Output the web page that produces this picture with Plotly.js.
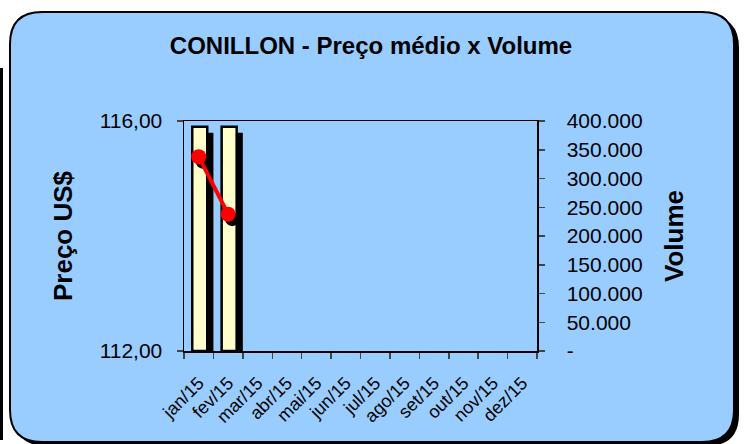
<!DOCTYPE html>
<html>
<head>
<meta charset="utf-8">
<script src="https://cdn.plot.ly/plotly-3.0.1.min.js"></script>
<style>html,body{margin:0;padding:0;background:#fff;}#chart{width:746px;height:444px;}</style>
</head>
<body>
<div id="chart"></div>
<script>
// ---- data ----
const months = ['jan/15','fev/15','mar/15','abr/15','mai/15','jun/15','jul/15','ago/15','set/15','out/15','nov/15','dez/15'];
const volume = [390000, 390000, null, null, null, null, null, null, null, null, null, null];
const price = [115.38, 114.38, null, null, null, null, null, null, null, null, null, null];
const volTickVals = [0, 50000, 100000, 150000, 200000, 250000, 300000, 350000, 400000];
const volTickText = ['-', '50.000', '100.000', '150.000', '200.000', '250.000', '300.000', '350.000', '400.000'];
const priceTickVals = [112, 116];
const priceTickText = ['112,00', '116,00'];

// ---- geometry (plot area in px) ----
const W = 746, H = 444;
const L = 184, R = 537, T = 121, B = 351;
const pw = R - L, ph = B - T;
const pxPerCat = pw / months.length;
const pxPerVol = ph / 400000;
const pxPerPrice = ph / 4;
const X = px => (px - L) / pw;
const Y = py => (B - py) / ph;

const idx = months.map((m, i) => i);
const volShadow = volume.map(v => v == null ? null : v - 6 / pxPerVol);
const priceShadow = price.map(p => p == null ? null : p - 5 / pxPerPrice);
const idxShadow = idx.map(i => i + 4 / pxPerCat);

function roundRect(x0, y0, x1, y1, r) {
  return 'M ' + X(x0 + r) + ',' + Y(y0) +
    ' L ' + X(x1 - r) + ',' + Y(y0) +
    ' Q ' + X(x1) + ',' + Y(y0) + ' ' + X(x1) + ',' + Y(y0 + r) +
    ' L ' + X(x1) + ',' + Y(y1 - r) +
    ' Q ' + X(x1) + ',' + Y(y1) + ' ' + X(x1 - r) + ',' + Y(y1) +
    ' L ' + X(x0 + r) + ',' + Y(y1) +
    ' Q ' + X(x0) + ',' + Y(y1) + ' ' + X(x0) + ',' + Y(y1 - r) +
    ' L ' + X(x0) + ',' + Y(y0 + r) +
    ' Q ' + X(x0) + ',' + Y(y0) + ' ' + X(x0 + r) + ',' + Y(y0) + ' Z';
}

const FAM = 'Liberation Sans, Arial, sans-serif';

const traces = [
  {type: 'bar', x: months, y: volShadow, xaxis: 'x', yaxis: 'y',
   marker: {color: '#000000', line: {width: 0}}, width: 0.51, offset: -0.01,
   hoverinfo: 'skip', showlegend: false},
  {type: 'bar', x: months, y: volume, xaxis: 'x', yaxis: 'y', name: 'Volume',
   marker: {color: '#FFFFCC', line: {color: '#000000', width: 2.5}}, width: 0.51, offset: -0.22,
   showlegend: false},
  {type: 'scatter', mode: 'markers', x: idxShadow, y: priceShadow, xaxis: 'x2', yaxis: 'y2',
   marker: {color: '#000000', size: 14}, hoverinfo: 'skip', showlegend: false},
  {type: 'scatter', mode: 'lines+markers', x: idx, y: price, xaxis: 'x2', yaxis: 'y2', name: 'Preço',
   line: {color: '#FF0000', width: 4}, marker: {color: '#FF0000', size: 15}, showlegend: false}
];

const tickFont = {family: FAM, size: 21, color: '#000'};

const layout = {
  width: W, height: H,
  margin: {l: L, r: W - R, t: T, b: H - B, pad: 0},
  paper_bgcolor: '#ffffff',
  plot_bgcolor: 'rgba(0,0,0,0)',
  barmode: 'overlay',
  showlegend: false,
  separators: ',.',
  font: {family: FAM, color: '#000'},
  title: {text: '<b>CONILLON - Preço médio x Volume</b>', xref: 'container', yref: 'container',
          x: 371 / W, xanchor: 'center', y: 1 - 46 / H, yanchor: 'middle',
          font: {family: FAM, size: 24, color: '#000'}},
  xaxis: {type: 'category', categoryorder: 'array', categoryarray: months, range: [-0.5, 11.5],
          tickson: 'boundaries', ticks: 'outside', ticklen: 6, tickcolor: '#444', tickwidth: 1.5,
          tickangle: -45, ticklabelstandoff: 13, tickfont: {family: FAM, size: 18, color: '#000'},
          showline: true, linecolor: '#000', linewidth: 1.5, mirror: true, showgrid: false, zeroline: false,
          fixedrange: true},
  xaxis2: {overlaying: 'x', range: [-0.5, 11.5], visible: false, fixedrange: true},
  yaxis: {side: 'right', range: [0, 400000], tickvals: volTickVals, ticktext: volTickText,
          ticks: 'outside', ticklen: 6, tickcolor: '#444', tickwidth: 1.5, ticklabelstandoff: 18,
          tickfont: tickFont, showline: true, linecolor: '#000', linewidth: 1.5, showgrid: false,
          zeroline: false, fixedrange: true,
          title: {text: '<b>Volume</b>', standoff: 23,
                  font: {family: FAM, size: 26, color: '#000'}}},
  yaxis2: {overlaying: 'y', side: 'left', range: [112, 116], tickvals: priceTickVals, ticktext: priceTickText,
           ticks: 'outside', ticklen: 6, tickcolor: '#444', tickwidth: 1.5, ticklabelstandoff: 10,
           tickfont: tickFont, showline: true, linecolor: '#000', linewidth: 1.5, showgrid: false,
           zeroline: false, fixedrange: true,
           title: {text: '<b>Preço US$</b>', standoff: 19,
                   font: {family: FAM, size: 26, color: '#000'}}},
  shapes: [
    {type: 'path', xref: 'paper', yref: 'paper', layer: 'below', path: roundRect(14, 16, 739, 446, 32),
     fillcolor: '#000000', line: {width: 0}},
    {type: 'path', xref: 'paper', yref: 'paper', layer: 'below', path: roundRect(10, 12, 734, 442, 32),
     fillcolor: '#99CCFF', line: {color: '#000000', width: 2}},
    {type: 'line', xref: 'paper', yref: 'paper', layer: 'below', x0: X(1.5), x1: X(1.5), y0: Y(68), y1: Y(440),
     line: {color: '#000000', width: 3}}
  ]
};

Plotly.newPlot('chart', traces, layout, {staticPlot: true, displayModeBar: false});
</script>
</body>
</html>
